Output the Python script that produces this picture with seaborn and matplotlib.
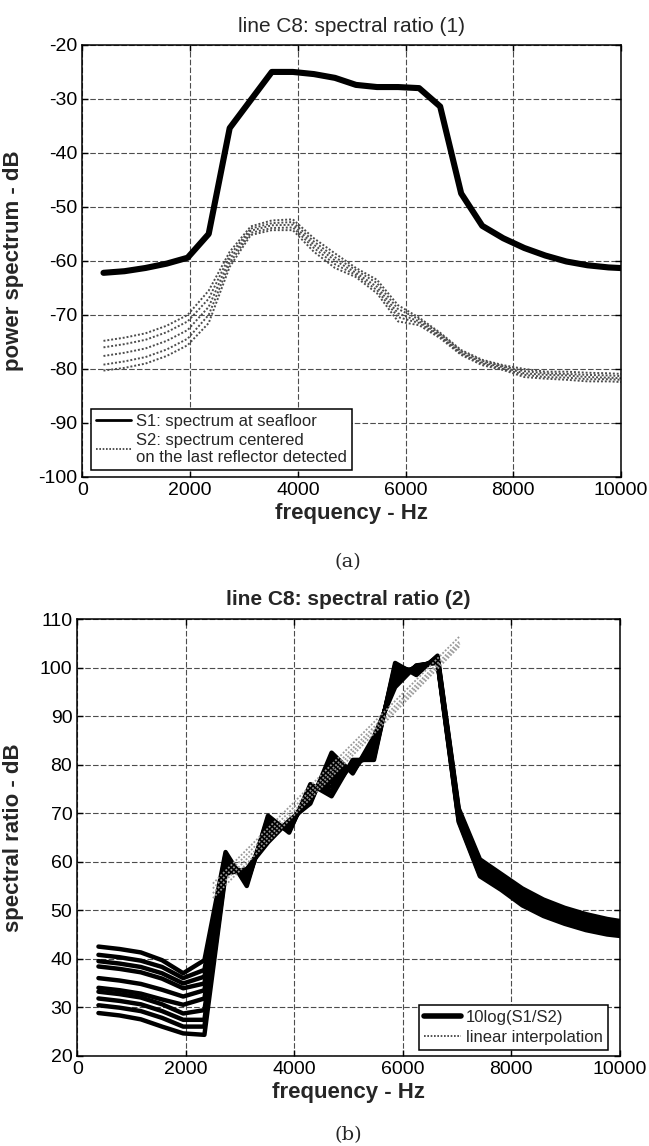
import matplotlib
matplotlib.use("Agg")
import matplotlib.pyplot as plt
import pandas as pd
import seaborn as sns
from matplotlib.lines import Line2D

# ---------------- data ----------------
freq = [391, 781, 1172, 1563, 1953, 2344, 2734, 3125, 3516, 3906, 4297, 4688, 5078,
        5469, 5859, 6250, 6641, 7031, 7422, 7813, 8203, 8594, 8984, 9375, 9766, 10156]

# (a) S1: spectrum at seafloor
s1 = [-62.2, -61.9, -61.3, -60.5, -59.4, -55.0, -35.4, -30.2, -25.0, -25.0, -25.4, -26.1, -27.4,
      -27.8, -27.8, -28.0, -31.4, -47.5, -53.5, -55.8, -57.6, -59.0, -60.1, -60.8, -61.2, -61.4]

# (a) S2: spectrum centered on the last reflector detected (several traces)
s2_a = [-74.8, -74.2, -73.4, -72.0, -70.0, -65.5, -58.3, -53.6, -52.5, -52.3, -55.8, -58.6, -61.3,
        -63.5, -68.2, -70.5, -73.3, -76.5, -78.3, -79.3, -80.0, -80.5, -80.5, -80.7, -80.8, -81.0]
s2_b = [-76.0, -75.4, -74.6, -73.2, -71.2, -67.0, -59.0, -54.0, -53.0, -52.8, -56.4, -59.3, -61.7,
        -64.1, -68.9, -70.8, -73.5, -76.7, -78.5, -79.5, -80.4, -80.8, -80.9, -81.1, -81.2, -81.4]
s2_c = [-77.6, -77.0, -76.2, -74.8, -72.8, -68.5, -59.7, -54.4, -53.4, -53.3, -57.0, -59.9, -62.2,
        -64.8, -69.7, -71.2, -73.8, -77.0, -78.8, -79.7, -80.8, -81.1, -81.2, -81.5, -81.6, -81.8]
s2_d = [-79.2, -78.6, -77.8, -76.4, -74.4, -70.0, -60.4, -54.8, -53.9, -53.8, -57.6, -60.6, -62.6,
        -65.4, -70.4, -71.5, -74.0, -77.2, -79.0, -80.0, -81.1, -81.5, -81.6, -81.9, -81.9, -82.1]
s2_e = [-80.3, -79.8, -79.0, -77.6, -75.6, -71.5, -61.1, -55.2, -54.3, -54.3, -58.3, -61.3, -63.0,
        -66.0, -71.2, -71.9, -74.3, -77.4, -79.3, -80.2, -81.5, -81.8, -82.0, -82.3, -82.3, -82.5]

# (b) 10log(S1/S2) traces
r_0 = [42.5, 42.0, 41.3, 39.7, 37.0, 39.7, 62.0, 55.0, 69.5, 66.0, 76.0, 73.5, 81.0,
       81.0, 101.0, 98.5, 102.5, 71.0, 60.5, 57.5, 54.5, 52.2, 50.5, 49.2, 48.2, 47.5]
r_1 = [40.8, 40.3, 39.6, 38.3, 36.0, 37.7, 61.5, 55.5, 69.0, 66.3, 75.5, 74.5, 80.5,
       81.5, 100.5, 99.0, 102.3, 70.6, 60.1, 57.1, 54.1, 51.8, 50.1, 48.8, 47.8, 47.1]
r_2 = [39.5, 39.0, 38.3, 37.0, 34.9, 36.3, 61.0, 56.0, 68.0, 66.6, 75.0, 75.5, 80.2,
       82.0, 100.0, 99.3, 102.0, 70.3, 59.7, 56.8, 53.7, 51.4, 49.8, 48.5, 47.5, 46.8]
r_3 = [38.4, 37.9, 37.2, 35.9, 33.9, 34.9, 60.5, 56.5, 67.5, 67.0, 74.5, 76.5, 80.0,
       82.5, 99.5, 99.6, 101.8, 70.0, 59.3, 56.4, 53.3, 51.0, 49.4, 48.1, 47.1, 46.5]
r_4 = [36.0, 35.5, 34.8, 33.6, 32.2, 33.5, 60.0, 57.0, 67.0, 67.3, 74.0, 77.5, 79.6,
       83.0, 99.0, 99.8, 101.6, 69.7, 58.9, 56.0, 52.9, 50.6, 49.0, 47.7, 46.8, 46.2]
r_5 = [34.0, 33.5, 32.8, 31.6, 30.5, 31.8, 59.5, 57.3, 66.5, 67.5, 73.5, 78.5, 79.3,
       83.5, 98.5, 100.0, 101.5, 69.4, 58.5, 55.6, 52.5, 50.2, 48.6, 47.3, 46.4, 45.9]
r_6 = [33.2, 32.7, 32.0, 30.6, 28.7, 29.4, 59.0, 57.6, 66.0, 67.8, 73.2, 79.5, 79.0,
       84.0, 98.0, 100.2, 101.4, 69.1, 58.1, 55.3, 52.1, 49.9, 48.3, 47.0, 46.1, 45.6]
r_7 = [31.8, 31.3, 30.6, 29.2, 27.4, 27.4, 58.5, 57.9, 65.5, 68.0, 72.8, 80.5, 78.7,
       84.5, 97.5, 100.3, 101.3, 68.8, 57.7, 54.9, 51.7, 49.5, 47.9, 46.6, 45.7, 45.2]
r_8 = [30.4, 29.9, 29.2, 27.8, 26.0, 26.0, 58.0, 58.2, 65.0, 68.3, 72.4, 81.5, 78.5,
       85.0, 97.0, 100.4, 101.2, 68.5, 57.3, 54.5, 51.3, 49.1, 47.5, 46.2, 45.3, 44.8]
r_9 = [28.8, 28.3, 27.5, 26.0, 24.6, 24.3, 57.5, 58.5, 64.0, 68.5, 72.0, 82.5, 78.2,
       85.8, 96.0, 100.5, 101.0, 68.2, 57.0, 54.2, 51.0, 48.8, 47.2, 45.9, 45.0, 44.5]

# (b) linear interpolation lines
interp_freq = [2500, 7050]
lin_1 = [55.5, 106.5]
lin_2 = [54.5, 105.5]
lin_3 = [53.5, 105.0]
lin_4 = [52.5, 104.5]

x_ticks = [0, 2000, 4000, 6000, 8000, 10000]

# ---------------- tables ----------------
s2_df = pd.concat([pd.DataFrame({"freq": freq, "dB": v, "curve": i})
                   for i, v in enumerate([s2_a, s2_b, s2_c, s2_d, s2_e])])
s1_df = pd.DataFrame({"freq": freq, "dB": s1})
r_df = pd.concat([pd.DataFrame({"freq": freq, "dB": v, "curve": i})
                  for i, v in enumerate([r_0, r_1, r_2, r_3, r_4, r_5, r_6, r_7, r_8, r_9])])
lin_df = pd.concat([pd.DataFrame({"freq": interp_freq, "dB": v, "curve": i})
                    for i, v in enumerate([lin_1, lin_2, lin_3, lin_4])])

# ---------------- style ----------------
sns.set_style("ticks")
plt.rcParams["font.family"] = ["Liberation Sans", "DejaVu Sans"]
plt.rcParams["axes.unicode_minus"] = False

fig = plt.figure(figsize=(6.49, 11.46), dpi=100)
ax1 = fig.add_axes([0.127, 0.5838, 0.830, 0.377])
ax2 = fig.add_axes([0.119, 0.0788, 0.836, 0.3808])

GRID = dict(color="0.3", linestyle=(0, (5, 2)), linewidth=0.8)


def style_axes(ax):
    ax.set_axisbelow(True)
    ax.grid(True, **GRID)
    for sp in ax.spines.values():
        sp.set_visible(True)
        sp.set_color("black")
        sp.set_linewidth(1.1)
    ax.tick_params(direction="in", length=4, width=1, labelsize=14,
                   top=True, right=True, colors="black")
    ax.set_xticks(x_ticks)
    ax.set_xlim(0, 10000)


# ---------------- (a) ----------------
sns.lineplot(data=s2_df, x="freq", y="dB", units="curve", estimator=None,
             color="0.3", linestyle=(0, (1, 1)), linewidth=1.4, ax=ax1, legend=False)
sns.lineplot(data=s1_df, x="freq", y="dB", color="black", linewidth=4.4, ax=ax1, legend=False)
style_axes(ax1)
ax1.set_ylim(-100, -20)
ax1.set_yticks(list(range(-100, -19, 10)))
ax1.set_title("line C8: spectral ratio (1)", fontsize=15, pad=9)
ax1.set_xlabel("frequency - Hz", fontsize=16, fontweight="bold", labelpad=3)
ax1.set_ylabel("power spectrum - dB", fontsize=16, fontweight="bold")
ax1.yaxis.set_label_coords(-0.109, 0.5)
h1 = [Line2D([], [], color="black", linewidth=2),
      Line2D([], [], color="0.2", linestyle=(0, (1, 1)), linewidth=1.2)]
leg1 = ax1.legend(h1, ["S1: spectrum at seafloor",
                       "S2: spectrum centered\non the last reflector detected"],
                  loc="lower left", bbox_to_anchor=(0.016, 0.016), borderaxespad=0,
                  fontsize=12, frameon=True, fancybox=False, framealpha=1,
                  edgecolor="black", handlelength=2.1, labelspacing=0.2,
                  borderpad=0.3, handletextpad=0.3)
leg1.get_frame().set_linewidth(1.1)

# ---------------- (b) ----------------
sns.lineplot(data=r_df, x="freq", y="dB", units="curve", estimator=None,
             color="black", linewidth=3.2, ax=ax2, legend=False)
sns.lineplot(data=lin_df, x="freq", y="dB", units="curve", estimator=None,
             color="0.6", linestyle=(0, (1, 1)), linewidth=1.3, ax=ax2, legend=False)
style_axes(ax2)
ax2.set_ylim(20, 110)
ax2.set_yticks(list(range(20, 111, 10)))
ax2.set_title("line C8: spectral ratio (2)", fontsize=15, fontweight="bold", pad=10)
ax2.set_xlabel("frequency - Hz", fontsize=16, fontweight="bold", labelpad=3)
ax2.set_ylabel("spectral ratio - dB", fontsize=16, fontweight="bold")
ax2.yaxis.set_label_coords(-0.099, 0.5)
h2 = [Line2D([], [], color="black", linewidth=4),
      Line2D([], [], color="0.2", linestyle=(0, (1, 1)), linewidth=1.2)]
leg2 = ax2.legend(h2, ["10log(S1/S2)", "linear interpolation"],
                  loc="lower right", bbox_to_anchor=(0.978, 0.013), borderaxespad=0,
                  fontsize=12, frameon=True, fancybox=False, framealpha=1,
                  edgecolor="black", handlelength=2.2, labelspacing=0.3,
                  borderpad=0.3, handletextpad=0.3)
leg2.get_frame().set_linewidth(1.1)

fig.text(0.536, 0.5096, "(a)", ha="center", va="center", fontsize=14, family="DejaVu Serif")
fig.text(0.536, 0.0096, "(b)", ha="center", va="center", fontsize=14, family="DejaVu Serif")

fig.savefig("out.png", dpi=100)
